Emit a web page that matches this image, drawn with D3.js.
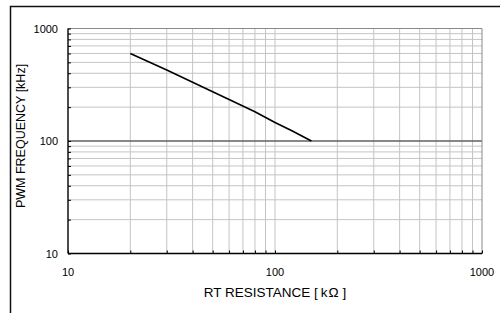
<!DOCTYPE html>
<html>
<head>
<meta charset="utf-8">
<script src="https://cdn.jsdelivr.net/npm/d3@7"></script>
<style>
  body { margin: 0; background: #fff; }
  text { font-family: "Liberation Sans", Arial, sans-serif; fill: #000; }
</style>
</head>
<body>
<div id="vis1"></div>
<script>
// Curve: RT resistance [kOhm] vs PWM frequency [kHz]
const RESISTANCE = [20, 30, 40, 50, 60, 80, 100, 120, 150];
const FREQUENCY = [600, 427, 333, 274, 234, 182, 146, 124, 100];

// Axis ticks
const X_TICKS = [10, 100, 1000];
const Y_TICKS = [10, 100, 1000];

// Frame dimensions
const FRAME_HEIGHT = 313;
const FRAME_WIDTH = 500;

const MARGINS = {left: 68, right: 18, top: 28.5, bottom: 59.5};

const VIS_HEIGHT = FRAME_HEIGHT - MARGINS.top - MARGINS.bottom;
const VIS_WIDTH = FRAME_WIDTH - MARGINS.left - MARGINS.right;

const FRAME1 = d3.select("#vis1")
                 .append("svg")
                 .attr("height", FRAME_HEIGHT)
                 .attr("width", FRAME_WIDTH)
                 .attr("class", "frame");

// Outer border (only left and top edges show)
FRAME1.append("path")
      .attr("d", "M10.5," + FRAME_HEIGHT + "V6.5H" + FRAME_WIDTH)
      .attr("fill", "none")
      .attr("stroke", "#111")
      .attr("stroke-width", 1.5);

const X_SCALE = d3.scaleLog().domain([10, 1000]).range([0, VIS_WIDTH]);
const Y_SCALE = d3.scaleLog().domain([10, 1000]).range([VIS_HEIGHT, 0]);

const PLOT = FRAME1.append("g")
                   .attr("transform", "translate(" + MARGINS.left + "," + MARGINS.top + ")");

// Minor + major grid values (1..9 per decade)
const gridVals = [];
[10, 100].forEach(d => { for (let k = 1; k <= 9; k++) gridVals.push(d * k); });
gridVals.push(1000);

// Vertical grid
PLOT.selectAll(".vgrid")
    .data(gridVals.filter(v => v > 10 && v < 1000))
    .enter().append("line")
    .attr("x1", d => X_SCALE(d)).attr("x2", d => X_SCALE(d))
    .attr("y1", 0).attr("y2", VIS_HEIGHT)
    .attr("stroke", "#c4c4c4").attr("stroke-width", 1);

// Horizontal grid
PLOT.selectAll(".hgrid")
    .data(gridVals.filter(v => v > 10 && v < 1000 && v !== 100))
    .enter().append("line")
    .attr("y1", d => Y_SCALE(d)).attr("y2", d => Y_SCALE(d))
    .attr("x1", 0).attr("x2", VIS_WIDTH)
    .attr("stroke", "#c4c4c4").attr("stroke-width", 1);

// Dark line at 100 kHz
PLOT.append("line")
    .attr("y1", Y_SCALE(100)).attr("y2", Y_SCALE(100))
    .attr("x1", 0).attr("x2", VIS_WIDTH)
    .attr("stroke", "#606060").attr("stroke-width", 1.6);

// Top and right borders of plot area
PLOT.append("path")
    .attr("d", "M0,0H" + VIS_WIDTH + "V" + VIS_HEIGHT)
    .attr("fill", "none")
    .attr("stroke", "#8a8a8a").attr("stroke-width", 1);

// Y axis with inward ticks
const yAxis = PLOT.append("g")
      .call(d3.axisRight(Y_SCALE).tickValues(gridVals).tickSize(3).tickFormat(""));
yAxis.select(".domain").attr("stroke", "#000").attr("stroke-width", 1.4).attr("d", "M0,0V" + VIS_HEIGHT);
yAxis.selectAll(".tick line").attr("stroke", "#000");

// X axis with inward ticks
const xAxis = PLOT.append("g")
      .attr("transform", "translate(0," + VIS_HEIGHT + ")")
      .call(d3.axisTop(X_SCALE).tickValues(gridVals).tickSize(3).tickFormat(""));
xAxis.select(".domain").attr("stroke", "#000").attr("stroke-width", 1.4).attr("d", "M0,0H" + VIS_WIDTH);
xAxis.selectAll(".tick line").attr("stroke", "#000");

// Y tick labels
PLOT.selectAll(".ylab")
    .data(Y_TICKS)
    .enter().append("text")
    .attr("x", -10)
    .attr("y", d => Y_SCALE(d) + 4)
    .attr("text-anchor", "end")
    .attr("font-size", "11px")
    .text(d => d);

// X tick labels
PLOT.selectAll(".xlab")
    .data(X_TICKS)
    .enter().append("text")
    .attr("x", d => X_SCALE(d))
    .attr("y", VIS_HEIGHT + 22)
    .attr("text-anchor", "middle")
    .attr("font-size", "11px")
    .text(d => d);

// Curve
const line = d3.line()
               .x((d, i) => X_SCALE(RESISTANCE[i]))
               .y(d => Y_SCALE(d));
PLOT.append("path")
    .datum(FREQUENCY)
    .attr("d", line)
    .attr("fill", "none")
    .attr("stroke", "#000")
    .attr("stroke-width", 1.6);

// Axis titles
const xTitle = FRAME1.append("text")
      .attr("x", 275)
      .attr("y", 297)
      .attr("text-anchor", "middle")
      .attr("font-size", "13.5px");
xTitle.append("tspan").text("RT RESISTANCE [");
xTitle.append("tspan").attr("dx", 3).text("k");
xTitle.append("tspan").attr("dx", 1).text("Ω");
xTitle.append("tspan").attr("dx", 4).text("]");

FRAME1.append("text")
      .attr("transform", "translate(25,136) rotate(-90)")
      .attr("text-anchor", "middle")
      .attr("font-size", "12.5px")
      .text("PWM FREQUENCY [kHz]");
</script>
</body>
</html>
